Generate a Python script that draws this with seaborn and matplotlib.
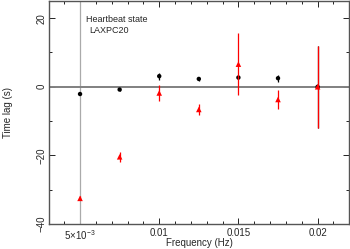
import matplotlib
matplotlib.use("Agg")
import matplotlib.pyplot as plt
import seaborn as sns
import pandas as pd
import numpy as np
from matplotlib.ticker import MultipleLocator, FixedLocator

freq = [0.005, 0.0075, 0.01, 0.0125, 0.015, 0.0175, 0.02]
lag_black = [-2.1, -0.8, 3.1, 2.3, 2.7, 2.5, 0.0]
err_black = [0.3, 0.3, 1.0, 0.6, 0.5, 1.0, 12.0]
lag_red = [-32.5, -20.4, -1.8, -6.6, 6.6, -3.7, 0.0]
err_red = [0.6, 1.5, 2.4, 1.7, 9.1, 2.9, 12.0]
xtick_vals = [0.005, 0.01, 0.015, 0.02]
xtick_labels = [r"5×10$^{-3}$", "0.01", "0.015", "0.02"]
ytick_vals = [-40, -20, 0, 20]

sns.set_style("ticks")
plt.rcParams["font.family"] = ["Liberation Sans", "DejaVu Sans"]
plt.rcParams["mathtext.fontset"] = "custom"
plt.rcParams["mathtext.rm"] = "Liberation Sans"
plt.rcParams["mathtext.it"] = "Liberation Sans"

fig = plt.figure(figsize=(3.5, 2.49), dpi=100)
ax = fig.add_axes([0.14, 0.10, 0.857, 0.896])

df_b = pd.DataFrame({"f": freq, "lag": lag_black})
df_r = pd.DataFrame({"f": freq, "lag": lag_red})

ax.axvline(0.005, color="#aaaaaa", lw=0.9, zorder=1)
ax.axhline(0, color="#808080", lw=1.4, zorder=1)

ax.errorbar(freq, lag_black, yerr=err_black, fmt="none", ecolor="black", elinewidth=0.9, capsize=0, zorder=2)
sns.scatterplot(data=df_b, x="f", y="lag", marker="o", color="black", s=10, edgecolor="none", ax=ax, zorder=3)
ax.errorbar(freq, lag_red, yerr=err_red, fmt="none", ecolor="red", elinewidth=0.9, capsize=0, zorder=4)
sns.scatterplot(data=df_r, x="f", y="lag", marker="^", color="red", s=16, edgecolor="none", ax=ax, zorder=5)

ax.set_xlim(0.00304, 0.02198)
ax.set_ylim(-40, 25)
ax.xaxis.set_major_locator(FixedLocator(xtick_vals))
ax.set_xticklabels(xtick_labels)
ax.xaxis.set_minor_locator(MultipleLocator(0.001))
ax.yaxis.set_major_locator(FixedLocator(ytick_vals))
ax.yaxis.set_minor_locator(MultipleLocator(10))
ax.tick_params(which="both", direction="in", top=True, right=True, labelsize=7, color="black", width=0.6, pad=2)
ax.tick_params(axis="x", which="both", pad=3)
ax.tick_params(which="major", length=4)
ax.tick_params(which="minor", length=2)
for lab in ax.get_yticklabels():
    lab.set_rotation(90)
    lab.set_va("center")
for s in ax.spines.values():
    s.set_color("#555555")
    s.set_linewidth(1.0)

ax.set_xlabel("Frequency (Hz)", fontsize=7)
ax.xaxis.set_label_coords(0.5, -0.064)
ax.set_ylabel("Time lag (s)", fontsize=7)
ax.yaxis.set_label_coords(-0.12, 0.5)
ax.text(0.00535, 19.5, "Heartbeat state", fontsize=6.5, va="center", ha="left")
ax.text(0.0056, 16.5, "LAXPC20", fontsize=6.5, va="center", ha="left")

fig.savefig("out.png", dpi=100)
